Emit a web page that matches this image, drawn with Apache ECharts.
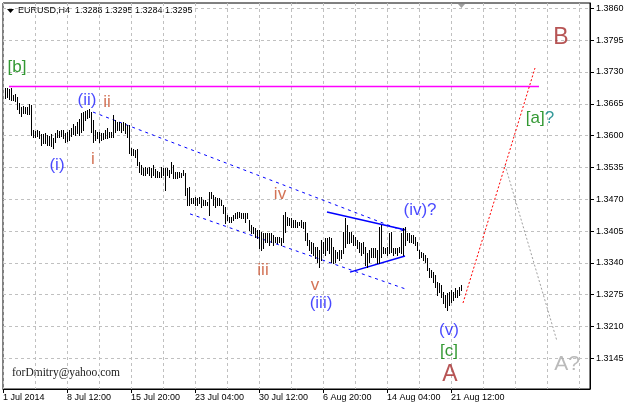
<!DOCTYPE html>
<html><head><meta charset="utf-8">
<script src="https://cdn.jsdelivr.net/npm/echarts@6/dist/echarts.min.js"></script>
<style>html,body{margin:0;padding:0;background:#fff}#c{width:627px;height:407px}</style>
</head><body><div id="c"></div>
<script>
// ---- data ----
const dateLabels = ['1 Jul 2014','8 Jul 12:00','15 Jul 20:00','23 Jul 04:00','30 Jul 12:00','6 Aug 20:00','14 Aug 04:00','21 Aug 12:00'];
const dateLabelPos = [0,32,64,96,128,160,192,224];
const priceTicks = [1.3145,1.3210,1.3275,1.3340,1.3405,1.3470,1.3535,1.3600,1.3665,1.3730,1.3795,1.3860];

const barHigh = [
1.3697,1.3697,1.3695,1.3697,1.3683,1.3685,1.3679,1.3667,1.3658,1.3660,
1.3658,1.3658,1.3665,1.3662,1.3611,1.3609,1.3611,1.3609,1.3603,1.3603,
1.3605,1.3601,1.3599,1.3603,1.3595,1.3605,1.3611,1.3609,1.3611,1.3611,
1.3605,1.3607,1.3611,1.3616,1.3624,1.3620,1.3628,1.3634,1.3646,1.3648,
1.3650,1.3652,1.3654,1.3648,1.3632,1.3611,1.3607,1.3607,1.3605,1.3605,
1.3611,1.3616,1.3607,1.3607,1.3642,1.3632,1.3628,1.3628,1.3626,1.3628,
1.3626,1.3622,1.3622,1.3575,1.3573,1.3571,1.3573,1.3546,1.3540,1.3534,
1.3536,1.3534,1.3536,1.3534,1.3540,1.3532,1.3528,1.3526,1.3536,1.3534,
1.3534,1.3534,1.3530,1.3546,1.3540,1.3526,1.3526,1.3526,1.3524,1.3530,
1.3524,1.3493,1.3495,1.3473,1.3473,1.3475,1.3473,1.3475,1.3475,1.3468,
1.3468,1.3464,1.3485,1.3485,1.3479,1.3475,1.3473,1.3473,1.3468,1.3458,
1.3454,1.3438,1.3434,1.3434,1.3438,1.3442,1.3444,1.3444,1.3442,1.3442,
1.3442,1.3442,1.3428,1.3417,1.3413,1.3411,1.3407,1.3407,1.3403,1.3401,
1.3401,1.3401,1.3401,1.3401,1.3397,1.3393,1.3393,1.3393,1.3391,1.3438,
1.3444,1.3434,1.3432,1.3432,1.3428,1.3428,1.3424,1.3424,1.3428,1.3424,
1.3424,1.3401,1.3387,1.3383,1.3381,1.3372,1.3372,1.3366,1.3387,1.3383,
1.3391,1.3391,1.3393,1.3391,1.3372,1.3366,1.3362,1.3366,1.3366,1.3403,
1.3432,1.3417,1.3403,1.3403,1.3397,1.3393,1.3387,1.3383,1.3381,1.3383,
1.3372,1.3360,1.3366,1.3370,1.3370,1.3370,1.3366,1.3413,1.3417,1.3372,
1.3370,1.3372,1.3401,1.3403,1.3370,1.3370,1.3370,1.3372,1.3401,1.3411,
1.3413,1.3401,1.3401,1.3397,1.3397,1.3393,1.3383,1.3366,1.3362,1.3360,
1.3356,1.3350,1.3330,1.3325,1.3321,1.3315,1.3301,1.3299,1.3295,1.3280,
1.3274,1.3278,1.3280,1.3285,1.3280,1.3289,1.3285,1.3291,1.3295];

const barLow = [
1.3677,1.3679,1.3675,1.3673,1.3673,1.3671,1.3654,1.3646,1.3640,1.3646,
1.3646,1.3644,1.3644,1.3601,1.3597,1.3597,1.3599,1.3595,1.3581,1.3585,
1.3585,1.3581,1.3581,1.3579,1.3575,1.3587,1.3597,1.3597,1.3599,1.3595,
1.3587,1.3589,1.3591,1.3599,1.3603,1.3601,1.3605,1.3601,1.3607,1.3611,
1.3632,1.3636,1.3638,1.3607,1.3587,1.3591,1.3595,1.3587,1.3591,1.3593,
1.3595,1.3595,1.3597,1.3597,1.3597,1.3607,1.3611,1.3611,1.3607,1.3611,
1.3605,1.3597,1.3565,1.3560,1.3560,1.3556,1.3540,1.3526,1.3522,1.3520,
1.3520,1.3524,1.3520,1.3515,1.3520,1.3515,1.3515,1.3515,1.3515,1.3520,
1.3489,1.3520,1.3515,1.3524,1.3513,1.3513,1.3513,1.3515,1.3515,1.3520,
1.3479,1.3458,1.3458,1.3462,1.3462,1.3458,1.3458,1.3462,1.3454,1.3458,
1.3458,1.3458,1.3438,1.3473,1.3458,1.3454,1.3458,1.3458,1.3458,1.3442,
1.3422,1.3428,1.3424,1.3424,1.3428,1.3432,1.3432,1.3434,1.3432,1.3432,
1.3424,1.3432,1.3407,1.3401,1.3401,1.3393,1.3391,1.3370,1.3366,1.3370,
1.3383,1.3383,1.3377,1.3383,1.3377,1.3383,1.3381,1.3383,1.3377,1.3383,
1.3403,1.3417,1.3417,1.3413,1.3413,1.3413,1.3413,1.3417,1.3413,1.3411,
1.3387,1.3377,1.3366,1.3360,1.3356,1.3350,1.3342,1.3332,1.3346,1.3360,
1.3356,1.3366,1.3360,1.3342,1.3340,1.3342,1.3350,1.3346,1.3350,1.3360,
1.3372,1.3381,1.3381,1.3383,1.3377,1.3377,1.3370,1.3362,1.3356,1.3360,
1.3336,1.3332,1.3342,1.3352,1.3352,1.3352,1.3340,1.3340,1.3352,1.3360,
1.3360,1.3356,1.3360,1.3362,1.3356,1.3360,1.3356,1.3362,1.3360,1.3356,
1.3377,1.3387,1.3383,1.3383,1.3381,1.3377,1.3366,1.3350,1.3352,1.3346,
1.3342,1.3325,1.3311,1.3311,1.3301,1.3291,1.3274,1.3280,1.3270,1.3258,
1.3250,1.3244,1.3254,1.3260,1.3264,1.3270,1.3270,1.3274,1.3284];

// lines (bar index, price)
const levelLine    = [[3, 1.3700], [268, 1.3700]];
const channelUpper = [[45, 1.3648], [201, 1.3404]];
const channelLower = [[93.5, 1.3440], [201, 1.3287]];
const triUpper     = [[162, 1.3444], [201.5, 1.3407]];
const triLower     = [[173.5, 1.3321], [201, 1.3354]];
const projUp       = [[230, 1.3258], [266, 1.3738]];
const projDown     = [[251, 1.3540], [277, 1.3180]];

// wave labels: text, bar index, price, kind
const waveText  = ['[b]','(ii)','ii','(i)','i','iv','iii','v','(iii)','(iv)?','(v)','[c]','A','B','[a]?','A?'];
const waveX     = [7, 42, 52, 27, 45, 138.5, 130, 156, 159, 208.5, 223, 223, 223.5, 279, 268.5, 282];
const wavePrice = [1.3740, 1.3673, 1.3667, 1.3540, 1.3552, 1.3479, 1.3325, 1.3295, 1.3258, 1.3448, 1.3203, 1.3160, 1.3111, 1.3801, 1.3636, 1.3133];
const waveKind  = ['g','b','r','b','r','r','r','r','b','b','b','g','big','big','ga','grey'];

// ---- styles ----
const kindStyle = {
  g:   {color:'#008000', fontSize:17},
  b:   {color:'#1a1aff', fontSize:17},
  r:   {color:'#c8502c', fontSize:17},
  big: {color:'#a52a2a', fontSize:23},
  grey:{color:'#a9a9a9', fontSize:21},
  ga:  {color:'#008000', fontSize:17}
};
const FONT = 'Liberation Sans, Arial, sans-serif';

const chart = echarts.init(document.getElementById('c'), null, {renderer:'canvas'});

function lineSeries(data, color, width, type) {
  return {type:'line', data:data, symbol:'none', silent:true, animation:false, z:3,
    lineStyle:{color:color, width:width, type:type}};
}

const option = {
  animation:false,
  backgroundColor:'#fff',
  grid:{left:3, top:3, width:587, height:386, show:true, borderColor:'#000', borderWidth:1, backgroundColor:'#fff'},
  xAxis:[{
    type:'value', min:0, max:293.5, interval:16, position:'bottom',
    axisLine:{show:true, onZero:false, lineStyle:{color:'#000'}},
    axisTick:{show:false}, axisLabel:{show:false},
    splitLine:{show:true, lineStyle:{color:'#c0c0c0', type:[3,3], width:1}}
  },{
    type:'value', min:0, max:293.5, position:'bottom',
    axisLine:{show:false, onZero:false},
    axisTick:{show:true, length:4, customValues:dateLabelPos, lineStyle:{color:'#000'}},
    axisLabel:{show:true, customValues:dateLabelPos, align:'left', margin:4,
      color:'#000', fontSize:9, fontFamily:FONT,
      formatter:function(v){ const i = dateLabelPos.indexOf(v); return i>=0 ? dateLabels[i] : ''; }},
    splitLine:{show:false}
  }],
  yAxis:{
    type:'value', position:'right', min:1.308227, max:1.387083,
    axisLine:{show:true, onZero:false, lineStyle:{color:'#000'}},
    axisTick:{show:true, length:4, customValues:priceTicks, lineStyle:{color:'#000'}},
    axisLabel:{customValues:priceTicks, margin:6, color:'#000', fontSize:9, fontFamily:FONT,
      formatter:function(v){ return v.toFixed(4); }},
    splitLine:{show:true, lineStyle:{color:'#c0c0c0', type:[3,3], width:1}}
  },
  series:[
    lineSeries(levelLine, '#ff00ff', 1.5, 'solid'),
    lineSeries(channelUpper, '#0000ff', 1, [3,4]),
    lineSeries(channelLower, '#0000ff', 1, [3,4]),
    lineSeries(triUpper, '#0000ff', 1.5, 'solid'),
    lineSeries(triLower, '#0000ff', 1.5, 'solid'),
    lineSeries(projUp, '#ff0000', 1, [2,2]),
    lineSeries(projDown, '#a0a0a0', 1, [2,2]),
    {
      type:'custom', silent:true, animation:false, z:4,
      data: barHigh.map(function(h,i){ return [i+1, barLow[i], h]; }),
      encode:{x:0, y:[1,2]},
      renderItem:function(params, api){
        const top = api.coord([api.value(0), api.value(2)]);
        const bot = api.coord([api.value(0), api.value(1)]);
        const px = Math.round(top[0]) + 0.5;
        return {type:'line', shape:{x1:px, y1:Math.round(top[1]), x2:px, y2:Math.round(bot[1])+1},
          style:{stroke:'#000', lineWidth:1}};
      }
    },
    {
      type:'scatter', symbolSize:0, silent:true, animation:false, z:6,
      data: waveText.map(function(t,i){
        const st = kindStyle[waveKind[i]];
        const lab = {show:true, position:'inside', fontFamily:FONT, color:st.color, fontSize:st.fontSize};
        if (waveKind[i] === 'ga') {
          lab.formatter = '{g|[a]}{t|?}';
          lab.rich = {g:{color:'#008000', fontSize:17, fontFamily:FONT}, t:{color:'#008080', fontSize:17, fontFamily:FONT}};
        } else {
          lab.formatter = t;
        }
        return {value:[waveX[i], wavePrice[i]], label:lab};
      })
    }
  ],
  graphic:[
    {type:'polygon', shape:{points:[[7,9],[14,9],[10.5,13]]}, style:{fill:'#000'}},
    {type:'text', x:18, y:11, style:{text:'EURUSD,H4  1.3288 1.3295 1.3284 1.3295', fill:'#000',
      font:'9px Liberation Sans', textVerticalAlign:'middle'}},
    {type:'polygon', shape:{points:[[458,4],[465,4],[461.5,8]]}, style:{fill:'#a0a0a0'}},
    {type:'text', x:12, y:373, style:{text:'forDmitry@yahoo.com', fill:'#202020',
      font:'11.5px Liberation Serif', textVerticalAlign:'middle'}}
  ]
};
chart.setOption(option);
</script>
</body></html>
